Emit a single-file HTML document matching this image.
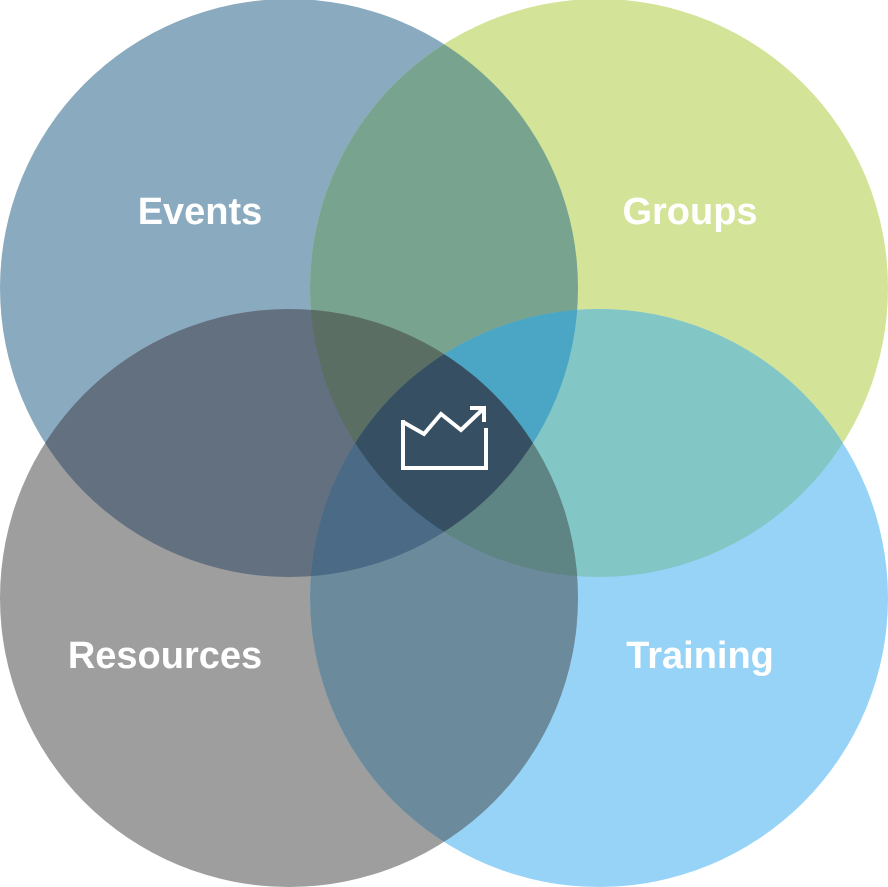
<!DOCTYPE html><html><head><style>body{margin:0;background:#fff}svg{display:block}text{font-family:"Liberation Sans",sans-serif;font-weight:bold;font-size:38px;fill:#fff}</style></head><body>
<svg width="888" height="887" viewBox="0 0 888 887">
<defs>
<clipPath id="E"><circle cx="289" cy="288" r="289"/></clipPath>
<clipPath id="G"><circle cx="599" cy="288" r="289"/></clipPath>
<clipPath id="R"><circle cx="289" cy="598" r="289"/></clipPath>
<clipPath id="T"><circle cx="599" cy="598" r="289"/></clipPath>
</defs>
<rect width="888" height="887" fill="#fff"/>
<circle cx="289" cy="288" r="289" fill="#8aabbf"/>
<circle cx="599" cy="288" r="289" fill="#d3e398"/>
<circle cx="289" cy="598" r="289" fill="#9e9e9e"/>
<circle cx="599" cy="598" r="289" fill="#97d3f7"/>
<g clip-path="url(#E)"><rect width="888" height="887" fill="#78a38f" clip-path="url(#G)"/></g>
<g clip-path="url(#E)"><rect width="888" height="887" fill="#627080" clip-path="url(#R)"/></g>
<g clip-path="url(#G)"><rect width="888" height="887" fill="#82c6c5" clip-path="url(#T)"/></g>
<g clip-path="url(#R)"><rect width="888" height="887" fill="#6b8a9b" clip-path="url(#T)"/></g>
<g clip-path="url(#E)"><g clip-path="url(#G)"><rect width="888" height="887" fill="#5a6e63" clip-path="url(#R)"/></g></g>
<g clip-path="url(#E)"><g clip-path="url(#G)"><rect width="888" height="887" fill="#4ba5c4" clip-path="url(#T)"/></g></g>
<g clip-path="url(#E)"><g clip-path="url(#R)"><rect width="888" height="887" fill="#4a6a85" clip-path="url(#T)"/></g></g>
<g clip-path="url(#G)"><g clip-path="url(#R)"><rect width="888" height="887" fill="#5e8583" clip-path="url(#T)"/></g></g>
<g clip-path="url(#E)"><g clip-path="url(#G)"><g clip-path="url(#R)"><rect width="888" height="887" fill="#364f63" clip-path="url(#T)"/></g></g></g>
<g fill="none" stroke="#fff" stroke-width="4">
<polyline points="403,420 403,468 486,468 486,428"/>
<polyline points="403,422 424,434 441,414 461,430 483,409"/>
<polyline points="470,408 484,408 484,422"/>
</g>
<text x="200" y="224" text-anchor="middle">Events</text>
<text x="690" y="224" text-anchor="middle">Groups</text>
<text x="165" y="668" text-anchor="middle">Resources</text>
<text x="700" y="668" text-anchor="middle">Training</text>
</svg></body></html>
